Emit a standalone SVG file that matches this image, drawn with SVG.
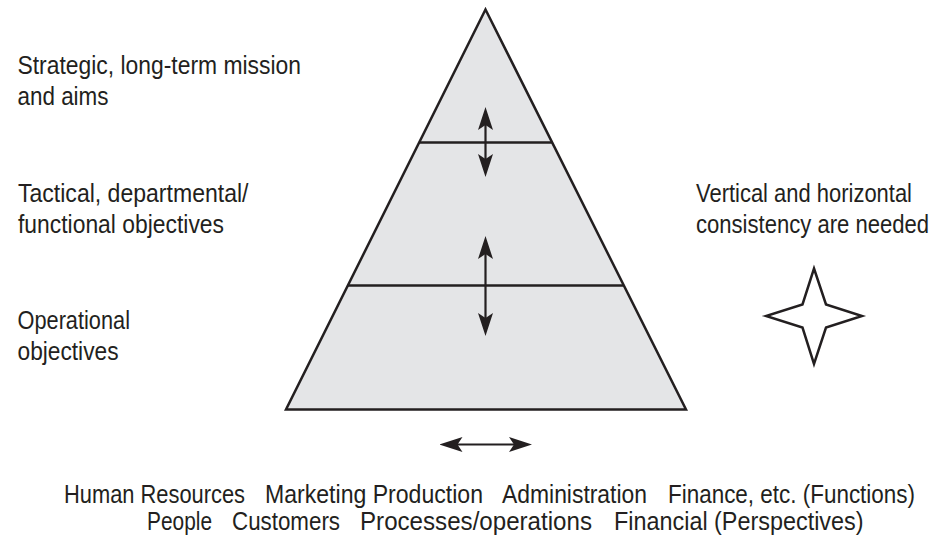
<svg xmlns="http://www.w3.org/2000/svg" width="938" height="537" viewBox="0 0 938 537">
  <style>
    .lbl { font-family: "Liberation Sans", Arial, sans-serif; font-size: 25px; fill: #231f20; }
    .edge { fill: none; stroke: #231f20; stroke-width: 2.5; }
    .arrow { fill: none; stroke: #231f20; stroke-width: 2.2; marker-start: url(#head); marker-end: url(#head); }
  </style>
  <defs>
    <marker id="head" viewBox="0 0 24 16" refX="10" refY="8" markerWidth="24" markerHeight="16" markerUnits="userSpaceOnUse" orient="auto-start-reverse">
      <path d="M24,8 L1,0.5 L6,8 L1,15.5 Z" fill="#231f20"/>
    </marker>
  </defs>

  <rect width="938" height="537" fill="#ffffff"/>

  <!-- pyramid with its two level dividers -->
  <g id="pyramid">
    <polygon points="485.5,9.5 686,409.5 286,409.5" fill="#e4e5e7" stroke="#231f20" stroke-width="2.5" stroke-linejoin="miter"/>
    <line class="edge" x1="419.2" y1="142.5" x2="551.8" y2="142.5"/>
    <line class="edge" x1="347.8" y1="285.5" x2="623.2" y2="285.5"/>
  </g>

  <!-- double-headed arrows -->
  <g id="connectors">
    <line class="arrow" x1="485.5" y1="121" x2="485.5" y2="163"/>
    <line class="arrow" x1="485.5" y1="250" x2="485.5" y2="322"/>
    <line class="arrow" x1="453.5" y1="444.5" x2="518" y2="444.5"/>
  </g>

  <!-- four-pointed star -->
  <g id="star">
    <polygon points="814,268.5 826,304.5 862,316 826,327.5 814,364 802.5,327.5 766,316 802.5,304.5" fill="#ffffff" stroke="#231f20" stroke-width="2.5" stroke-linejoin="miter"/>
  </g>

  <!-- labels use a horizontally condensed sans: scale(0.86,1), lengths given in local units -->
  <g id="label-strategic">
    <text class="lbl" transform="translate(17.5,73.5) scale(0.86,1)" textLength="329.65" lengthAdjust="spacingAndGlyphs">Strategic, long-term mission</text>
    <text class="lbl" transform="translate(17.5,105) scale(0.86,1)" textLength="105.81" lengthAdjust="spacingAndGlyphs">and aims</text>
  </g>
  <g id="label-tactical">
    <text class="lbl" transform="translate(18,201.5) scale(0.86,1)" textLength="268.02" lengthAdjust="spacingAndGlyphs">Tactical, departmental/</text>
    <text class="lbl" transform="translate(18,233) scale(0.86,1)" textLength="239.53" lengthAdjust="spacingAndGlyphs">functional objectives</text>
  </g>
  <g id="label-operational">
    <text class="lbl" transform="translate(17.5,328.5) scale(0.86,1)" textLength="130.81" lengthAdjust="spacingAndGlyphs">Operational</text>
    <text class="lbl" transform="translate(17.5,360) scale(0.86,1)" textLength="117.44" lengthAdjust="spacingAndGlyphs">objectives</text>
  </g>

  <!-- consistency note, right -->
  <g id="label-consistency">
    <text class="lbl" transform="translate(696,201.5) scale(0.86,1)" textLength="251.16" lengthAdjust="spacingAndGlyphs">Vertical and horizontal</text>
    <text class="lbl" transform="translate(696,233) scale(0.86,1)" textLength="270.93" lengthAdjust="spacingAndGlyphs">consistency are needed</text>
  </g>

  <!-- functions and perspectives -->
  <g id="label-functions">
    <text class="lbl" transform="translate(64,502.5) scale(0.86,1)" textLength="210.47" lengthAdjust="spacingAndGlyphs">Human Resources</text>
    <text class="lbl" transform="translate(265,502.5) scale(0.86,1)" textLength="253.49" lengthAdjust="spacingAndGlyphs">Marketing Production</text>
    <text class="lbl" transform="translate(502,502.5) scale(0.86,1)" textLength="168.6" lengthAdjust="spacingAndGlyphs">Administration</text>
    <text class="lbl" transform="translate(668,502.5) scale(0.86,1)" textLength="287.21" lengthAdjust="spacingAndGlyphs">Finance, etc. (Functions)</text>
  </g>
  <g id="label-perspectives">
    <text class="lbl" transform="translate(147,529.5) scale(0.86,1)" textLength="75.58" lengthAdjust="spacingAndGlyphs">People</text>
    <text class="lbl" transform="translate(232,529.5) scale(0.86,1)" textLength="125.58" lengthAdjust="spacingAndGlyphs">Customers</text>
    <text class="lbl" transform="translate(360,529.5) scale(0.86,1)" textLength="269.77" lengthAdjust="spacingAndGlyphs">Processes/operations</text>
    <text class="lbl" transform="translate(614,529.5) scale(0.86,1)" textLength="290.12" lengthAdjust="spacingAndGlyphs">Financial (Perspectives)</text>
  </g>
</svg>
